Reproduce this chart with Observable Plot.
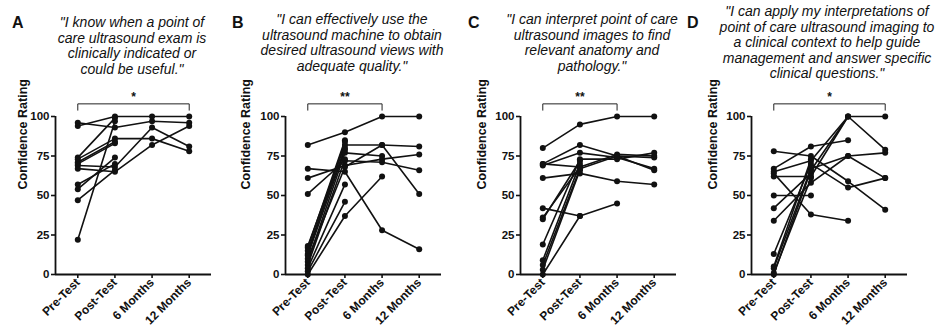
<!DOCTYPE html>
<html><head><meta charset="utf-8">
<script src="https://cdn.jsdelivr.net/npm/d3@7"></script>
<script src="https://cdn.jsdelivr.net/npm/@observablehq/plot@0.6"></script>
<style>
body{margin:0;background:#fff;}
#wrap{position:relative;width:940px;height:334px;overflow:hidden;font-family:"Liberation Sans",Arial,sans-serif;color:#111;}
.panel{position:absolute;top:0;}
.title{position:absolute;font-style:italic;font-size:14px;line-height:15.5px;text-align:center;white-space:nowrap;transform:translateX(-50%);}
.letter{position:absolute;font-weight:bold;font-size:16px;line-height:16px;}
</style></head><body><div id="wrap"></div>
<script>
// ---- data ----
const timepoints = ["Pre-Test", "Post-Test", "6 Months", "12 Months"];
const yTicks = [0, 25, 50, 75, 100];
const panelLetters = ["A", "B", "C", "D"];
const panelTitles = [
  ["\"I know when a point of", "care ultrasound exam is", "clinically indicated or", "could be useful.\""],
  ["\"I can effectively use the", "ultrasound machine to obtain", "desired ultrasound views with", "adequate quality.\""],
  ["\"I can interpret point of care", "ultrasound images to find", "relevant anatomy and", "pathology.\""],
  ["\"I can apply my interpretations of", "point of care ultrasound imaging to", "a clinical context to help guide", "management and answer specific", "clinical questions.\""]
];
const yLabel = "Confidence Rating";
// each row: one participant, [Pre-Test, Post-Test, 6 Months, 12 Months]
const ratingsA = [
  [96, 93, 97, 96], [94, 100, 100, 100], [74, 99, null, null], [73, 86, 86, 78],
  [71, 84, null, null], [69, 68, 93, 81], [67, 65, 82, 94], [57, 70, null, null],
  [54, 74, null, null], [47, 66, null, null], [22, 97, null, null], [70, 83, null, null]
];
const ratingsB = [
  [82, 90, 100, 100], [67, 65, 28, 16], [61, 69, 73, 76], [51, 72, 71, 66],
  [18, 82, 82, 81], [10, 68, 82, 51], [17, 85, null, null], [13, 84, null, null],
  [12, 79, null, null], [8, 77, 75, null], [6, 73, null, null], [4, 57, null, null],
  [2, 46, null, null], [0, 37, 62, null], [15, 80, null, null]
];
const ratingsC = [
  [80, 95, 100, 100], [70, 82, 75, 66], [69, 77, 74, 67], [70, 68, 76, 75],
  [61, 64, 59, 57], [42, 37, 45, null], [36, 68, null, null], [35, 72, null, null],
  [19, 73, 73, 77], [9, 70, null, null], [6, 67, 75, 74], [0, 37, null, null],
  [3, 66, null, null]
];
const ratingsD = [
  [78, 75, 59, 41], [67, 81, 85, null], [65, 72, 100, 100], [62, 62, 100, 79],
  [64, 38, 34, null], [50, 50, null, null], [42, 64, null, null], [34, 58, 75, 77],
  [13, 70, 55, 61], [5, 73, null, null], [4, 67, 75, 61], [0, 66, 100, null],
  [1, 61, null, null]
];
const sigFrom = [0, 0, 0, 0];
const sigTo = [3, 2, 2, 3];
const sigLabel = ["*", "**", "**", "*"];

// ---- layout ----
const panelW = 235, H = 334;
const panelLeft = [0, 235, 470, 705];
const axisLeft = [55, 50, 50, 46];
const plotW = 156;
const xPad = 0.6;
const titleCenter = [132, 352, 592, 827];
const titleTop = [15, 12, 12, 4];
const letterLeft = [12, 232, 468, 687];
const labelDx = [-33, -40, -39, -39];
const bracketTop = 108, bracketLeg = 104;

const allRatings = [ratingsA, ratingsB, ratingsC, ratingsD];
const wrap = document.getElementById("wrap");

allRatings.forEach((ratings, p) => {
  const rows = [];
  ratings.forEach((r, s) => r.forEach((v, t) => rows.push({subject: s, t, value: v})));
  const bracket = [
    {x: sigFrom[p], y: bracketLeg}, {x: sigFrom[p], y: bracketTop},
    {x: sigTo[p], y: bracketTop}, {x: sigTo[p], y: bracketLeg}
  ];
  const chart = Plot.plot({
    width: panelW, height: H,
    marginTop: 116, marginBottom: 60,
    marginLeft: axisLeft[p], marginRight: panelW - axisLeft[p] - plotW,
    style: {fontFamily: "'Liberation Sans', Arial, sans-serif", color: "#111", background: "transparent", overflow: "visible"},
    x: {domain: [-xPad, timepoints.length - 1 + xPad]},
    y: {domain: [0, 100]},
    marks: [
      Plot.axisY({ticks: yTicks, tickSize: 4, tickPadding: 2, fontSize: 11.5, fontWeight: "bold", label: null, strokeWidth: 1.6}),
      Plot.axisX({ticks: timepoints.map((d, i) => i), tickFormat: i => timepoints[i], tickRotate: -45, tickSize: 4, tickPadding: 2, fontSize: 12, fontWeight: "bold", label: null, strokeWidth: 1.6}),
      Plot.ruleY([0], {strokeWidth: 1.8}),
      Plot.ruleX([-xPad], {y1: 0, y2: 100, strokeWidth: 1.8}),
      Plot.text([yLabel], {frameAnchor: "left", rotate: -90, dx: labelDx[p], dy: -6, fontSize: 12.5, fontWeight: "bold"}),
      Plot.line(rows, {x: "t", y: "value", z: "subject", stroke: "#111", strokeWidth: 1.6}),
      Plot.dot(rows.filter(d => d.value != null), {x: "t", y: "value", r: 3, fill: "#111"}),
      Plot.line(bracket, {x: "x", y: "y", stroke: "#222", strokeWidth: 1}),
      Plot.text([sigLabel[p]], {x: (sigFrom[p] + sigTo[p]) / 2, y: bracketTop, dy: -3, lineAnchor: "bottom", fontSize: 12, fontWeight: "bold"})
    ]
  });
  chart.classList.add("panel");
  chart.style.left = panelLeft[p] + "px";
  wrap.appendChild(chart);

  const t = document.createElement("div");
  t.className = "title";
  t.style.left = titleCenter[p] + "px";
  t.style.top = titleTop[p] + "px";
  t.innerHTML = panelTitles[p].join("<br>");
  wrap.appendChild(t);

  const l = document.createElement("div");
  l.className = "letter";
  l.style.left = letterLeft[p] + "px";
  l.style.top = "15px";
  l.textContent = panelLetters[p];
  wrap.appendChild(l);
});
</script></body></html>
